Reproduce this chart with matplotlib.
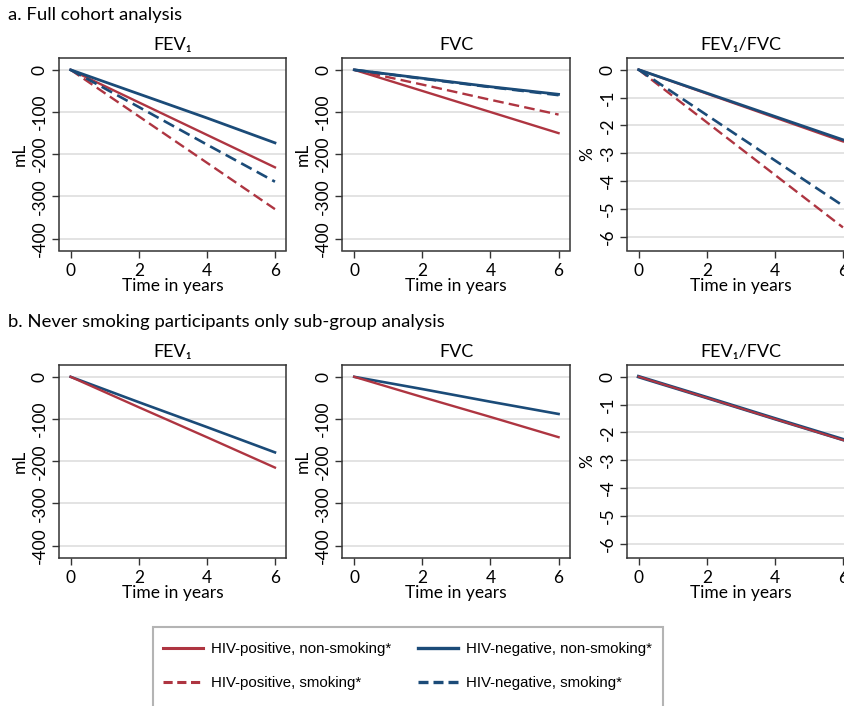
import numpy as np
import matplotlib.pyplot as plt
from matplotlib.lines import Line2D
from matplotlib.patches import Rectangle

# time points (years)
years = [0, 2, 4, 6]

# a. full cohort
fev1_pos_non = [0, -77, -154, -231]
fev1_pos_smk = [0, -110, -220, -330]
fev1_neg_non = [0, -57, -114, -173]
fev1_neg_smk = [0, -88, -177, -265]

fvc_pos_non = [0, -50, -100, -150]
fvc_pos_smk = [0, -35, -71, -106]
fvc_neg_non = [0, -20, -40, -58]
fvc_neg_smk = [0, -21, -41, -60]

ratio_pos_non = [0, -0.86, -1.72, -2.58]
ratio_pos_smk = [0, -1.89, -3.78, -5.67]
ratio_neg_non = [0, -0.84, -1.68, -2.52]
ratio_neg_smk = [0, -1.63, -3.26, -4.89]

# b. never smokers only
nev_fev1_pos = [0, -72, -143, -215]
nev_fev1_neg = [0, -60, -119, -179]
nev_fvc_pos = [0, -48, -95, -143]
nev_fvc_neg = [0, -29, -59, -88]
nev_ratio_pos = [0, -0.76, -1.52, -2.28]
nev_ratio_neg = [0, -0.75, -1.51, -2.26]

panel_titles = ['FEV\u2081', 'FVC', 'FEV\u2081/FVC']
legend_labels = ['HIV-positive, non-smoking*', 'HIV-positive, smoking*',
                 'HIV-negative, non-smoking*', 'HIV-negative, smoking*']

RED = '#ae3541'
BLUE = '#1b4b78'
DASH = (4.5, 2.2)
W, H = 845, 706
FONT = ['Lato', 'DejaVu Sans']

plt.rcParams['font.family'] = FONT
plt.rcParams['axes.unicode_minus'] = False

fig = plt.figure(figsize=(W / 100, H / 100), dpi=100)

col_left = [58.7, 342.3, 626.7]
row_top = [58, 365]
ax_w, ax_h = 227.5, 192.5


def make_ax(col, row):
    l = col_left[col]
    t = row_top[row]
    ax = fig.add_axes([l / W, 1 - (t + ax_h) / H, ax_w / W, ax_h / H])
    return ax


def style(ax, title, pct):
    ax.set_xlim(-0.35, 6.33)
    ax.set_xticks([0, 2, 4, 6])
    if pct:
        ax.set_ylim(-6.5, 0.42)
        ax.set_yticks([0, -1, -2, -3, -4, -5, -6])
        ax.set_ylabel('%', fontsize=12.5, labelpad=3)
    else:
        ax.set_ylim(-428, 28)
        ax.set_yticks([0, -100, -200, -300, -400])
        ax.set_ylabel('mL', fontsize=12.5, labelpad=3)
    for lab in ax.get_yticklabels():
        lab.set_rotation(90)
        lab.set_va('center')
    ax.tick_params(axis='both', labelsize=12.5, length=5, width=1, color='#333333')
    ax.tick_params(axis='y', pad=3)
    ax.tick_params(axis='x', pad=4)
    ax.grid(axis='y', color='#dedede', linewidth=1.2)
    ax.set_axisbelow(True)
    for sp in ax.spines.values():
        sp.set_color('#333333')
        sp.set_linewidth(1.1)
    ax.set_xlabel('Time in years', fontsize=12.5, labelpad=-1)
    ax.set_title(title, fontsize=13, pad=6)


# top row
full = [
    (fev1_pos_non, fev1_pos_smk, fev1_neg_non, fev1_neg_smk),
    (fvc_pos_non, fvc_pos_smk, fvc_neg_non, fvc_neg_smk),
    (ratio_pos_non, ratio_pos_smk, ratio_neg_non, ratio_neg_smk),
]
for i, (pn, ps, nn, ns) in enumerate(full):
    ax = make_ax(i, 0)
    ax.plot(years, pn, color=RED, lw=1.7)
    ax.plot(years, ps, color=RED, lw=1.7, ls=(0, DASH))
    ax.plot(years, nn, color=BLUE, lw=2.0)
    ax.plot(years, ns, color=BLUE, lw=1.9, ls=(0, DASH))
    style(ax, panel_titles[i], i == 2)

# bottom row
never = [
    (nev_fev1_pos, nev_fev1_neg),
    (nev_fvc_pos, nev_fvc_neg),
    (nev_ratio_pos, nev_ratio_neg),
]
for i, (p, n) in enumerate(never):
    ax = make_ax(i, 1)
    ax.plot(years, n, color=BLUE, lw=2.6 if i == 2 else 1.9)
    ax.plot(years, p, color=RED, lw=1.5 if i == 2 else 1.7)
    style(ax, panel_titles[i], i == 2)

fig.text(8 / W, 1 - 15 / H, 'a. Full cohort analysis', fontsize=13.3, va='center')
fig.text(8 / W, 1 - 322 / H, 'b. Never smoking participants only sub-group analysis',
         fontsize=13.3, va='center')

# legend box (runs past the bottom edge as in the original)
fig.patches.append(Rectangle((153 / W, -0.05), (663 - 153) / W, 0.05 + 1 - 627 / H,
                             transform=fig.transFigure, fill=False,
                             edgecolor='#b4b4b4', linewidth=1.5))

handles = [Line2D([], [], color=RED, lw=2.2),
           Line2D([], [], color=RED, lw=2.2, ls=(0, (3, 1.5))),
           Line2D([], [], color=BLUE, lw=2.4),
           Line2D([], [], color=BLUE, lw=2.4, ls=(0, (3, 1.5)))]
for k, x0 in enumerate([163, 418]):
    leg = fig.legend(handles[2 * k:2 * k + 2], legend_labels[2 * k:2 * k + 2],
                     loc='upper left', bbox_to_anchor=(x0 / W, 1 - 642 / H),
                     frameon=False, borderpad=0, borderaxespad=0,
                     handlelength=2.7, handletextpad=0.5, labelspacing=1.32,
                     prop={'family': ['Liberation Sans'], 'size': 10.8})

fig.savefig('out.png', dpi=100)
